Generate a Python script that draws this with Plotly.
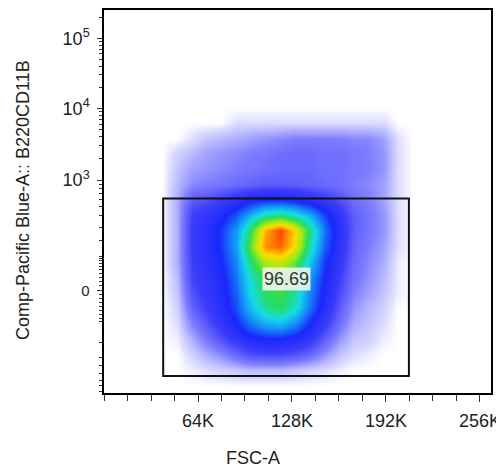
# flow plot: FSC-A vs B220CD11B, density drawn as a smoothed heatmap
import numpy as np
import plotly.graph_objects as go

# density grid (0 = empty, 10 = densest / red)
fsc_bins = [40000, 50000, 60000, 70000, 80000, 90000, 100000, 110000, 120000,
            130000, 140000, 150000, 160000, 170000, 180000, 190000, 200000, 210000]
chan_bins = [20, 60, 100, 140, 180, 220, 260, 300, 340, 380, 420, 460, 500,
             540, 580, 620, 660, 700, 740]   # display channels of the biex axis

density = [
    [0, 0, 0, 0, 0, 0, 0, 0, 0, 0, 0, 0, 0, 0, 0, 0, 0, 0],
    [0, 0, 0.1, 0.2, 0.3, 0.4, 0.5, 0.5, 0.5, 0.4, 0.3, 0.2, 0.1, 0, 0, 0, 0, 0],
    [0, 0, 0.3, 0.6, 0.9, 1.3, 1.7, 1.8, 1.8, 1.6, 1.3, 0.8, 0.4, 0.2, 0.1, 0, 0, 0],
    [0, 0.1, 0.6, 1.1, 1.7, 2.3, 2.8, 3.0, 3.0, 2.8, 2.3, 1.5, 0.8, 0.4, 0.3, 0.1, 0, 0],
    [0, 0.2, 1.0, 1.6, 2.3, 3.0, 3.8, 4.4, 4.6, 4.0, 3.0, 2.1, 1.2, 0.6, 0.4, 0.2, 0, 0],
    [0, 0.3, 1.4, 2.0, 2.6, 3.4, 4.6, 5.6, 6.0, 5.2, 3.8, 2.6, 1.5, 0.8, 0.5, 0.3, 0, 0],
    [0, 0.4, 1.7, 2.2, 2.7, 3.6, 5.0, 6.0, 6.2, 5.5, 4.0, 2.8, 1.8, 1.0, 0.7, 0.4, 0.1, 0],
    [0, 0.5, 1.9, 2.3, 2.8, 3.8, 5.2, 6.2, 6.5, 5.8, 4.2, 3.0, 2.0, 1.2, 0.8, 0.5, 0.1, 0],
    [0, 0.6, 2.0, 2.4, 3.0, 4.0, 5.8, 7.2, 7.5, 6.5, 4.8, 3.2, 2.2, 1.3, 0.9, 0.6, 0.1, 0],
    [0, 0.6, 2.1, 2.5, 3.2, 4.3, 6.5, 8.8, 9.2, 7.8, 5.5, 3.6, 2.4, 1.4, 1.0, 0.7, 0.2, 0],
    [0, 0.6, 2.1, 2.5, 3.2, 4.2, 6.0, 8.5, 9.5, 8.0, 5.8, 3.8, 2.5, 1.5, 1.1, 0.8, 0.2, 0],
    [0, 0.6, 2.0, 2.3, 2.8, 3.5, 4.5, 5.5, 5.8, 5.3, 4.5, 3.3, 2.3, 1.5, 1.1, 0.8, 0.2, 0],
    [0, 0.6, 1.5, 1.7, 2.0, 2.4, 2.8, 3.0, 3.0, 2.8, 2.5, 2.1, 1.7, 1.2, 1.0, 0.7, 0.2, 0],
    [0, 0.5, 0.9, 1.0, 1.1, 1.3, 1.4, 1.5, 1.5, 1.5, 1.4, 1.3, 1.2, 1.0, 0.9, 0.7, 0.2, 0],
    [0, 0.4, 0.7, 0.8, 0.9, 1.0, 1.1, 1.2, 1.3, 1.3, 1.3, 1.2, 1.2, 1.1, 1.0, 0.8, 0.2, 0],
    [0, 0.3, 0.5, 0.7, 0.8, 0.9, 1.0, 1.1, 1.2, 1.3, 1.3, 1.2, 1.2, 1.1, 1.0, 0.8, 0.2, 0],
    [0, 0, 0.2, 0.4, 0.5, 0.6, 0.7, 0.8, 0.9, 1.0, 1.0, 1.0, 1.0, 0.9, 0.9, 0.7, 0.2, 0],
    [0, 0, 0, 0, 0, 0.2, 0.2, 0.2, 0.2, 0.2, 0.2, 0.2, 0.2, 0.2, 0.2, 0.2, 0, 0],
    [0, 0, 0, 0, 0, 0, 0, 0, 0, 0, 0, 0, 0, 0, 0, 0, 0, 0],
]

# rectangle gate and its frequency
gate_fsc = [40300, 207600]
gate_chan = [44, 504]
gate_pct = "96.69"
label_pos = [124300, 294]

# axis ticks
x_ticks = [64000, 128000, 192000, 256000]
x_labels = ["64K", "128K", "192K", "256K"]
y_major = [266.3, 551.5, 737.4, 918.8]          # 0, 10^3, 10^4, 10^5
y_major_text = ["<span style='font-size:15px'>0</span>",
                "10<sup>3</sup>", "10<sup>4</sup>", "10<sup>5</sup>"]
y_near_zero = [541.1, 530.7, 517.8, 502.2, 484.1, 460.7, 429.6, 395.9,
               354.4, 349.2, 344.1, 336.3, 328.5, 320.7, 310.4, 300.0, 289.6, 279.3,
               255.9, 245.5, 235.2, 224.8, 214.4, 204.1, 193.7, 185.9,
               131.4, 92.5, 71.8, 51.1, 33.0, 20.0, 4.4]

# log minors in the upper decades
m = np.log10(np.arange(2, 10))
y_minor = y_near_zero + list(551.5 + 185.9 * m) + list(737.4 + 181.4 * m) + [918.8 + 181.4 * np.log10(2)]

jet = [
    [0.0, "rgb(255,255,255)"],
    [0.02, "rgb(220,220,255)"],
    [0.1, "rgb(125,125,255)"],
    [0.2, "rgb(60,60,250)"],
    [0.3, "rgb(25,40,250)"],
    [0.4, "rgb(20,140,250)"],
    [0.5, "rgb(20,220,230)"],
    [0.6, "rgb(40,220,90)"],
    [0.7, "rgb(160,235,20)"],
    [0.8, "rgb(255,220,0)"],
    [0.9, "rgb(255,120,0)"],
    [1.0, "rgb(250,10,0)"],
]

fig = go.Figure()
fig.add_trace(go.Heatmap(
    x=fsc_bins, y=chan_bins, z=density,
    zmin=0, zmax=10, zsmooth="best",
    colorscale=jet, showscale=False, hoverinfo="skip",
))

fig.add_shape(type="rect", xref="x", yref="y",
              x0=gate_fsc[0], x1=gate_fsc[1], y0=gate_chan[0], y1=gate_chan[1],
              line=dict(color="#111111", width=2))

fig.add_annotation(x=label_pos[0], y=label_pos[1], xref="x", yref="y",
                   text=gate_pct, showarrow=False,
                   font=dict(size=18, color="#333333"),
                   bgcolor="rgba(238,244,238,0.9)", borderpad=1)

# axis titles (x title sits at the figure centre, not the plot centre)
fig.add_annotation(x=-0.209, y=0.504, xref="paper", yref="paper",
                   xanchor="center", yanchor="middle",
                   text="Comp-Pacific Blue-A:: B220CD11B", textangle=-90,
                   showarrow=False, font=dict(size=18, color="#222222"))
fig.add_annotation(x=0.385, y=-0.170, xref="paper", yref="paper",
                   xanchor="center", yanchor="middle",
                   text="FSC-A", showarrow=False,
                   font=dict(size=18, color="#222222"))

fig.update_xaxes(
    range=[0, 263500], tickvals=x_ticks, ticktext=x_labels,
    ticks="outside", ticklen=7, tickwidth=1, tickcolor="#333",
    minor=dict(dtick=16000, tick0=0, ticks="outside", ticklen=6, tickcolor="#333"),
    showline=True, linecolor="black", linewidth=1.5, mirror=True,
    showgrid=False, zeroline=False, ticklabelstandoff=4, automargin=False,
    tickfont=dict(size=18, color="#222222"),
)
fig.update_yaxes(
    range=[0, 992], tickvals=y_major, ticktext=y_major_text,
    ticks="outside", ticklen=5, tickwidth=1, tickcolor="#333",
    minor=dict(tickvals=y_minor, ticks="outside", ticklen=3, tickcolor="#333"),
    showline=True, linecolor="black", linewidth=1.5, mirror=True,
    showgrid=False, zeroline=False, automargin=False, ticklabelstandoff=4,
    tickfont=dict(size=18, color="#222222"),
)

# the page body adds an 8px margin, so the figure is trimmed by that much
fig.update_layout(
    width=496, height=463,
    margin=dict(l=96, r=13, t=2, b=78),
    paper_bgcolor="white", plot_bgcolor="white",
    font=dict(family="Liberation Sans, Arial, sans-serif"),
    showlegend=False,
)

fig.write_html("out.html")
